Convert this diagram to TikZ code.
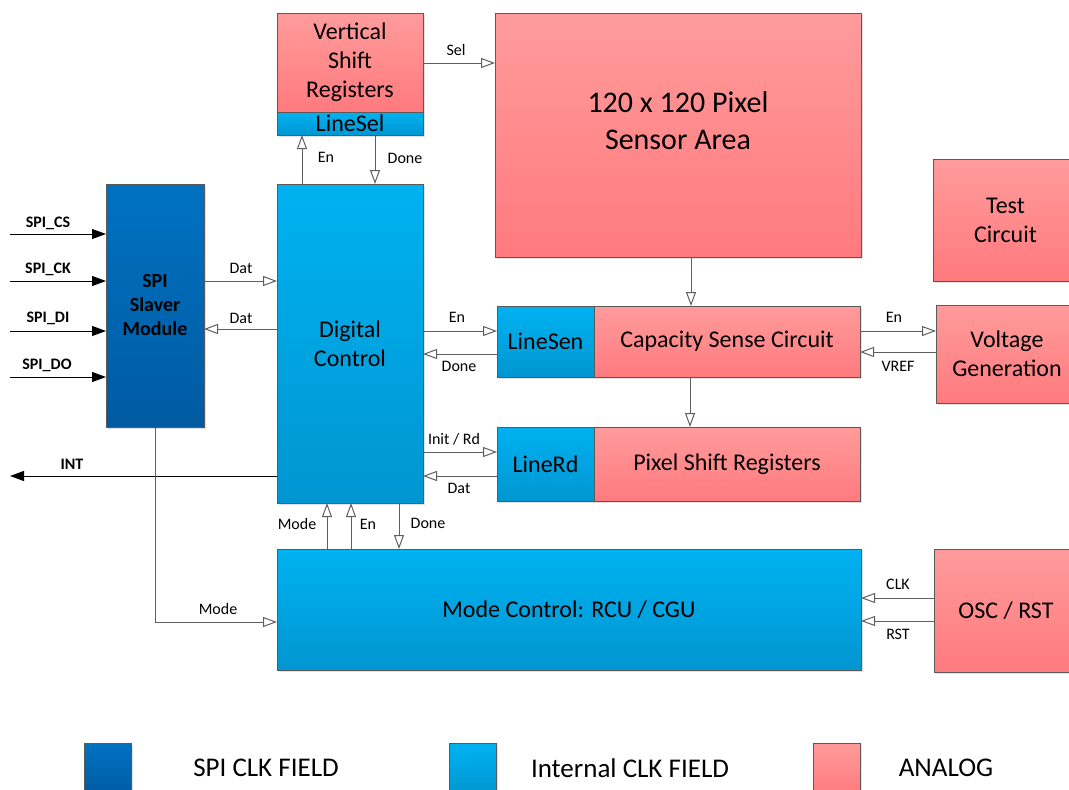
\documentclass[tikz,border=0pt]{standalone}
\usepackage{fontspec}
\setmainfont{Carlito}
\usetikzlibrary{arrows.meta,shadows}
\definecolor{pinkT}{RGB}{255,155,155}
\definecolor{pinkB}{RGB}{255,122,126}
\definecolor{blueT}{RGB}{0,178,240}
\definecolor{blueB}{RGB}{0,150,210}
\definecolor{dblueT}{RGB}{0,114,194}
\definecolor{dblueB}{RGB}{0,90,162}
\definecolor{edge}{RGB}{90,90,90}
\definecolor{wire}{RGB}{95,95,95}
\begin{document}
\begin{tikzpicture}[x=1pt,y=-1pt,
  blk/.style={draw=edge, line width=0.9pt, inner sep=0pt, outer sep=0pt, align=center,
    font=\fontsize{24}{29}\selectfont,
    drop shadow={shadow xshift=2pt,shadow yshift=-2pt,fill=black,opacity=0.12}},
  pinkbox/.style={blk, top color=pinkT, bottom color=pinkB},
  bluebox/.style={blk, top color=blueT, bottom color=blueB},
  dbluebox/.style={blk, top color=dblueT, bottom color=dblueB, font=\bfseries\fontsize{20}{24}\selectfont},
  conn/.style={draw=wire, line width=1pt, -{Triangle[open,length=14pt,width=10pt]}},
  pin/.style={draw=black, line width=1pt, -{Triangle[length=14pt,width=10pt]}},
  lbl/.style={font=\fontsize{16}{18}\selectfont, inner sep=0pt},
  pinlbl/.style={font=\bfseries\fontsize{16}{18}\selectfont, inner sep=0pt},
  legtxt/.style={font=\fontsize{27}{30}\selectfont, inner sep=0pt}]
\useasboundingbox (0,0) rectangle (1069,790);
\clip (0,0) rectangle (1069,790);
\fill[white] (0,0) rectangle (1069,790);

% blocks
\node[dbluebox, minimum width=98pt, minimum height=243pt] (spi) at (155,305.5) {SPI\\Slaver\\Module};
\node[bluebox, minimum width=146pt, minimum height=319pt] (dc) at (350,343.5) {Digital\\Control};
\node[pinkbox, minimum width=146pt, minimum height=99pt] (vsr) at (350,62.5) {Vertical\\Shift\\Registers};
\node[bluebox, minimum width=146pt, minimum height=23pt] (linesel) at (350,123.5) {LineSel};
\node[pinkbox, minimum width=366pt, minimum height=244pt] (sensor) at (678,135) {};
\node[align=center, inner sep=0pt, font=\fontsize{30}{37}\selectfont] (sensortxt) at (678,121) {120 x 120 Pixel\\Sensor Area};
\node[pinkbox, minimum width=145pt, minimum height=122pt] (test) at (1005.5,220) {Test\\Circuit};
\node[bluebox, minimum width=97pt, minimum height=71pt] (linesen) at (545.5,341.5) {LineSen};
\node[pinkbox, minimum width=266pt, minimum height=71pt] (cap) at (727,341.5) {Capacity Sense Circuit};
\node[bluebox, minimum width=97pt, minimum height=74pt] (linerd) at (545.5,464) {LineRd};
\node[pinkbox, minimum width=266pt, minimum height=74pt] (pix) at (727,464) {Pixel Shift Registers};
\node[pinkbox, minimum width=142pt, minimum height=98pt] (volt) at (1007,354) {Voltage\\Generation};
\node[bluebox, minimum width=584pt, minimum height=121pt] (mode) at (569,609.5) {Mode Control: RCU / CGU};
\node[pinkbox, minimum width=144pt, minimum height=123pt] (osc) at (1006,610.5) {OSC / RST};

% SPI pins
\coordinate (csin) at (10,234);
\coordinate (ckin) at (10,281);
\coordinate (diin) at (10,331);
\coordinate (doin) at (10,377);
\coordinate (intout) at (10,476);
\draw[pin] (csin) -- (spi.west |- csin);
\draw[pin] (ckin) -- (spi.west |- ckin);
\draw[pin] (diin) -- (spi.west |- diin);
\draw[pin] (doin) -- (spi.west |- doin);
\draw[pin] (dc.west |- intout) -- (intout);
\node[pinlbl] (lcs) at (48,223) {SPI\_CS};
\node[pinlbl] (lck) at (48,269) {SPI\_CK};
\node[pinlbl] (ldi) at (48,318) {SPI\_DI};
\node[pinlbl] (ldo) at (47,365) {SPI\_DO};
\node[pinlbl] (lint) at (72,464) {INT};

% SPI <-> Digital control
\draw[conn] (spi.east |- 0,281) -- (dc.west |- 0,281);
\draw[conn] (dc.west |- 0,329) -- (spi.east |- 0,329);
\node[lbl] (ldat1) at (241,268) {Dat};
\node[lbl] (ldat2) at (241,318) {Dat};
\draw[conn] (spi.south) |- (mode.west |- 0,622);
\node[lbl] (lmode1) at (218,609) {Mode};

% Digital control <-> LineSel
\draw[conn] (dc.north -| 302,0) -- (linesel.south -| 302,0);
\draw[conn] (linesel.south -| 375,0) -- (dc.north -| 375,0);
\node[lbl] (len1) at (326,157) {En};
\node[lbl] (ldone1) at (405,158) {Done};

% Sel
\draw[conn] (vsr.east |- 0,63) -- (sensor.west |- 0,63);
\node[lbl] (lsel) at (456,50) {Sel};

% sensor chain
\draw[conn] (sensor.south -| 691,0) -- (cap.north -| 691,0);
\draw[conn] (cap.south -| 690,0) -- (pix.north -| 690,0);

% Digital control <-> LineSen / LineRd
\draw[conn] (dc.east |- 0,331) -- (linesen.west |- 0,331);
\draw[conn] (linesen.west |- 0,354) -- (dc.east |- 0,354);
\draw[conn] (dc.east |- 0,452) -- (linerd.west |- 0,452);
\draw[conn] (linerd.west |- 0,476) -- (dc.east |- 0,476);
\node[lbl] (len2) at (457,317) {En};
\node[lbl] (ldone2) at (459,366) {Done};
\node[lbl] (linit) at (454,439) {Init / Rd};
\node[lbl] (ldat3) at (459,488) {Dat};

% Capacity <-> Voltage
\draw[conn] (cap.east |- 0,331) -- (volt.west |- 0,331);
\draw[conn] (volt.west |- 0,352) -- (cap.east |- 0,352);
\node[lbl] (len3) at (894,317) {En};
\node[lbl] (lvref) at (898,366) {VREF};

% Mode control <-> Digital control
\draw[conn] (mode.north -| 327,0) -- (dc.south -| 327,0);
\draw[conn] (mode.north -| 351,0) -- (dc.south -| 351,0);
\draw[conn] (dc.south -| 399,0) -- (mode.north -| 399,0);
\node[lbl] (lmode2) at (297,524) {Mode};
\node[lbl] (len4) at (368,524) {En};
\node[lbl] (ldone3) at (428,523) {Done};

% OSC -> Mode
\draw[conn] (osc.west |- 0,598) -- (mode.east |- 0,598);
\draw[conn] (osc.west |- 0,621) -- (mode.east |- 0,621);
\node[lbl] (lclk) at (898,584) {CLK};
\node[lbl] (lrst) at (898,634) {RST};

% legend
\node[blk, top color=dblueT, bottom color=dblueB, minimum width=47pt, minimum height=52pt] (lg1) at (107.5,769) {};
\node[blk, top color=blueT, bottom color=blueB, minimum width=47pt, minimum height=52pt] (lg2) at (472.5,769) {};
\node[blk, top color=pinkT, bottom color=pinkB, minimum width=47pt, minimum height=52pt] (lg3) at (836.5,769) {};
\node[legtxt] (lt1) at (266,768) {SPI CLK FIELD};
\node[legtxt] (lt2) at (630,768) {Internal CLK FIELD};
\node[legtxt] (lt3) at (946,768) {ANALOG};
\end{tikzpicture}
\end{document}
